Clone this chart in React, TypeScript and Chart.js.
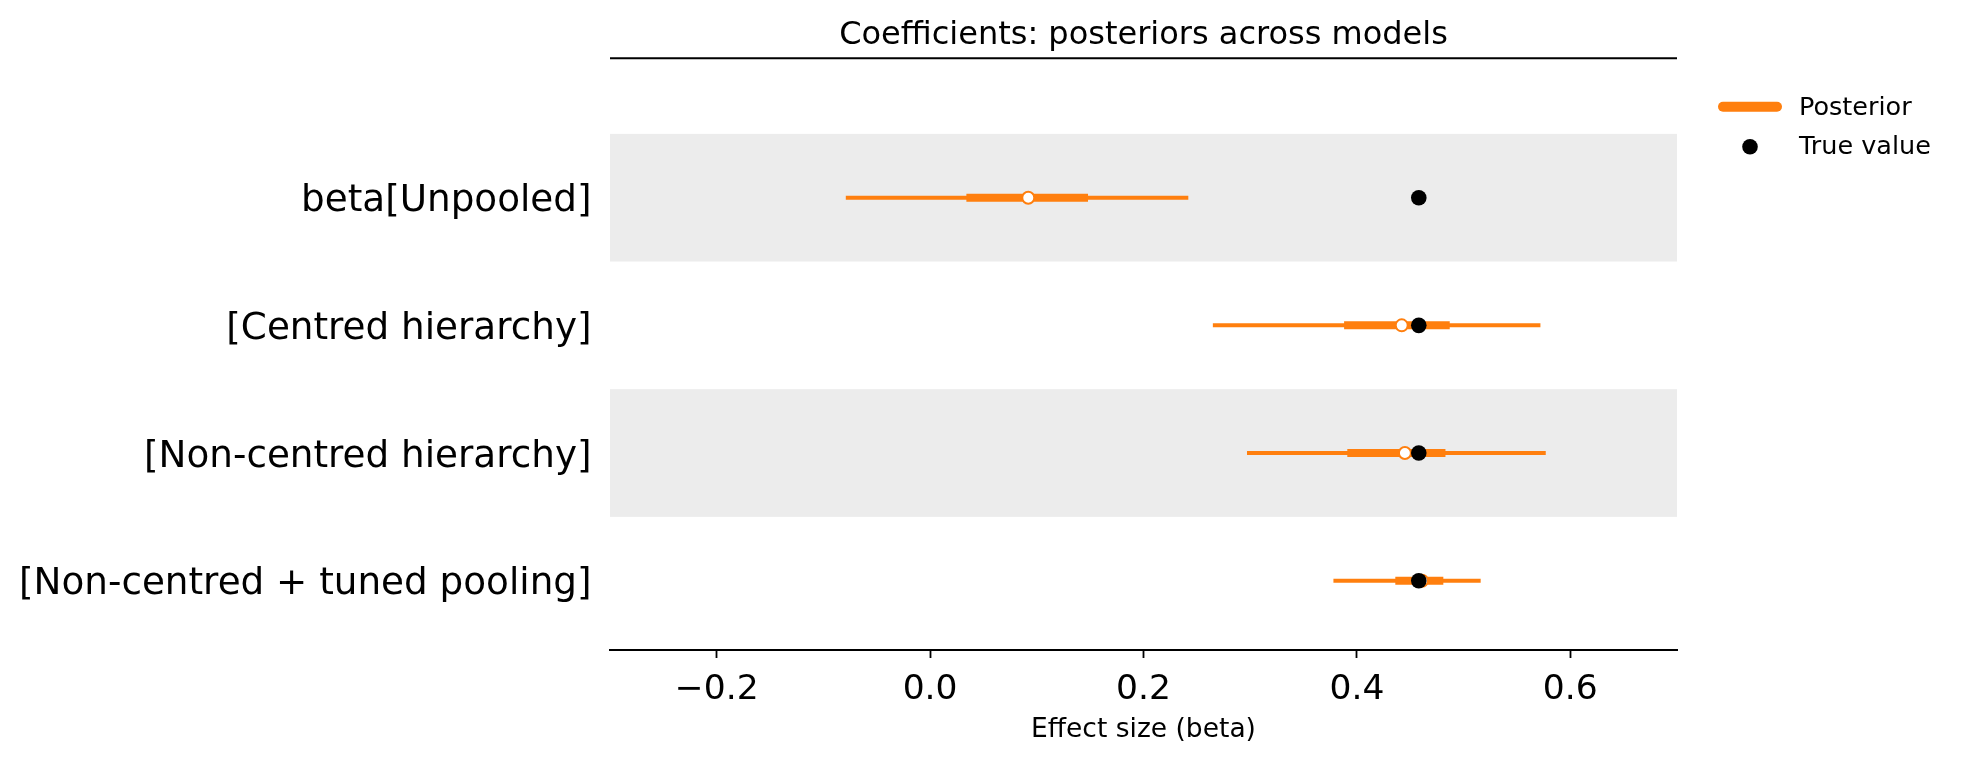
import React, { useEffect, useRef } from "react";
import { Chart, registerables } from "chart.js";

Chart.register(...registerables);

// ---- data ----
const categories = [
  "beta[Unpooled]",
  "[Centred hierarchy]",
  "[Non-centred hierarchy]",
  "[Non-centred + tuned pooling]",
];
const hdiLow = [-0.079, 0.265, 0.297, 0.378];
const hdiHigh = [0.242, 0.572, 0.577, 0.516];
const iqrLow = [0.034, 0.388, 0.391, 0.436];
const iqrHigh = [0.148, 0.487, 0.483, 0.481];
const medians = [0.092, 0.442, 0.445, 0.461];
const trueValues = [0.458, 0.458, 0.458, 0.458];
const xTicks = [-0.2, 0, 0.2, 0.4, 0.6];
const shadedRows = [0, 2];
const legendLabels = ["Posterior", "True value"];
const titleText = "Coefficients: posteriors across models";
const xLabel = "Effect size (beta)";

const ORANGE = "#ff7f0e";
const FONT = "'DejaVu Sans', sans-serif";

export default function App() {
  const ref = useRef<HTMLCanvasElement>(null);

  useEffect(() => {
    const canvas = ref.current!;
    const datasets: any[] = [];
    datasets.push({
      label: legendLabels[1],
      data: trueValues.map((x, i) => ({ x, y: i })),
      showLine: false,
      pointRadius: 7.8,
      pointHoverRadius: 7.8,
      pointBackgroundColor: "#000",
      pointBorderColor: "#000",
      pointBorderWidth: 0,
      order: 1,
    });
    datasets.push({
      label: "Median",
      data: medians.map((x, i) => ({ x, y: i })),
      showLine: false,
      pointRadius: 6,
      pointHoverRadius: 6,
      pointBackgroundColor: "#fff",
      pointBorderColor: ORANGE,
      pointBorderWidth: 2,
      order: 2,
    });
    categories.forEach((_, i) => {
      datasets.push({
        label: legendLabels[0],
        data: [
          { x: iqrLow[i], y: i },
          { x: iqrHigh[i], y: i },
        ],
        showLine: true,
        borderColor: ORANGE,
        borderWidth: 8,
        borderCapStyle: "butt",
        pointRadius: 0,
        order: 3,
      });
      datasets.push({
        label: legendLabels[0],
        data: [
          { x: hdiLow[i], y: i },
          { x: hdiHigh[i], y: i },
        ],
        showLine: true,
        borderColor: ORANGE,
        borderWidth: 4,
        borderCapStyle: "butt",
        pointRadius: 0,
        order: 4,
      });
    });

    const bandsPlugin = {
      id: "bands",
      beforeDatasetsDraw(chart: any) {
        const { ctx, chartArea, scales } = chart;
        const ys = scales.y;
        ctx.save();
        ctx.fillStyle = "#ececec";
        shadedRows.forEach((r) => {
          const a = ys.getPixelForValue(r - 0.5);
          const b = ys.getPixelForValue(r + 0.5);
          ctx.fillRect(
            chartArea.left,
            Math.min(a, b),
            chartArea.right - chartArea.left,
            Math.abs(b - a)
          );
        });
        ctx.restore();
      },
    };

    const topSpinePlugin = {
      id: "topSpine",
      afterDraw(chart: any) {
        const { ctx, chartArea } = chart;
        ctx.save();
        ctx.strokeStyle = "#000";
        ctx.lineWidth = 2;
        ctx.beginPath();
        ctx.moveTo(chartArea.left, chartArea.top);
        ctx.lineTo(chartArea.right, chartArea.top);
        ctx.stroke();
        ctx.restore();
      },
    };

    const legendPlugin = {
      id: "customLegend",
      afterDraw(chart: any) {
        const { ctx, chartArea } = chart;
        const x0 = chartArea.right;
        ctx.save();
        // Posterior line
        ctx.strokeStyle = ORANGE;
        ctx.lineWidth = 10;
        ctx.lineCap = "round";
        ctx.beginPath();
        ctx.moveTo(x0 + 46, chartArea.top + 48.5);
        ctx.lineTo(x0 + 100, chartArea.top + 48.5);
        ctx.stroke();
        // True value dot
        ctx.fillStyle = "#000";
        ctx.beginPath();
        ctx.arc(x0 + 73, chartArea.top + 88.4, 7.8, 0, Math.PI * 2);
        ctx.fill();
        // Texts
        ctx.font = `25.5px ${FONT}`;
        ctx.textAlign = "left";
        ctx.textBaseline = "middle";
        ctx.fillStyle = "#000";
        ctx.fillText(legendLabels[0], x0 + 122, chartArea.top + 50);
        ctx.fillText(legendLabels[1], x0 + 122, chartArea.top + 89.5);
        ctx.restore();
      },
    };

    const chart = new Chart(canvas, {
      type: "scatter",
      data: { datasets },
      options: {
        animation: false,
        responsive: false,
        maintainAspectRatio: false,
        events: [],
        layout: { padding: { left: 0, right: 288, top: 0, bottom: 0 } },
        plugins: {
          legend: { display: false },
          tooltip: { enabled: false },
          title: {
            display: true,
            text: titleText,
            fullSize: false,
            color: "#000",
            font: { family: FONT, size: 32, weight: "normal" },
            padding: { top: 16.8, bottom: 3.1 },
          },
        },
        scales: {
          x: {
            type: "linear",
            position: "bottom",
            min: -0.3,
            max: 0.7,
            afterBuildTicks: (scale: any) => {
              scale.ticks = xTicks.map((value) => ({ value }));
            },
            afterFit: (scale: any) => {
              scale.height = 112;
            },
            border: { display: true, color: "#000", width: 2 },
            grid: {
              display: true,
              drawOnChartArea: false,
              drawTicks: true,
              tickLength: 8,
              tickWidth: 1.8,
              tickColor: "#000",
              color: "#000",
            },
            ticks: {
              color: "#000",
              padding: 11,
              maxRotation: 0,
              autoSkip: false,
              font: { family: FONT, size: 34.5 },
              callback: (v: any) => {
                const n = Number(v);
                const s = Math.abs(n).toFixed(1);
                return n < -1e-9 ? "\u2212" + s : s;
              },
            },
            title: {
              display: true,
              text: xLabel,
              color: "#000",
              font: { family: FONT, size: 26.5 },
              padding: { top: 0, bottom: 15.5 },
            },
          },
          y: {
            type: "linear",
            position: "left",
            reverse: true,
            min: -1.092,
            max: 3.543,
            afterBuildTicks: (scale: any) => {
              scale.ticks = categories.map((_, i) => ({ value: i }));
            },
            afterFit: (scale: any) => {
              scale.width = 610;
            },
            border: { display: false },
            grid: { display: false, drawTicks: false },
            ticks: {
              color: "#000",
              padding: 18.5,
              labelOffset: 4,
              autoSkip: false,
              font: { family: FONT, size: 37.3 },
              callback: (v: any) => categories[Math.round(Number(v))] ?? "",
            },
          },
        },
      },
      plugins: [bandsPlugin, topSpinePlugin, legendPlugin],
    } as any);

    return () => {
      chart.destroy();
    };
  }, []);

  return (
    <div
      style={{
        position: "fixed",
        left: 0,
        top: 0,
        width: 1965,
        height: 762,
        background: "#fff",
      }}
    >
      <canvas
        ref={ref}
        width={1965}
        height={762}
        style={{ width: 1965, height: 762, display: "block" }}
      />
    </div>
  );
}
